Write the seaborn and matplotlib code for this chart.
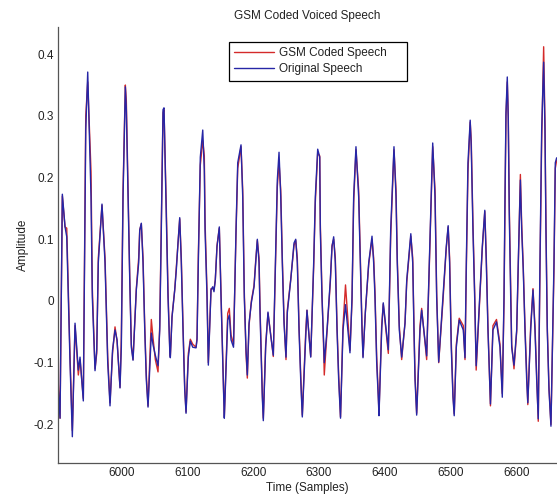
import matplotlib
matplotlib.use("Agg")
import matplotlib.pyplot as plt
import pandas as pd
import seaborn as sns

# ---- data (sample index, amplitude) ----
samples = [
    5903.1, 5906.2, 5909.7, 5913.8, 5916.4, 5921.4, 5924.9, 5929.0, 5934.0, 5936.6,
    5941.6, 5945.3, 5948.3, 5953.3, 5955.3, 5959.4, 5962.0, 5964.4, 5970.0, 5974.6,
    5978.7, 5982.2, 5986.0, 5989.8, 5992.9, 5997.4, 5999.4, 6002.0, 6005.5, 6007.0,
    6009.6, 6012.2, 6014.6, 6017.2, 6022.2, 6025.8, 6027.4, 6029.8, 6032.4, 6035.0,
    6037.4, 6040.0, 6045.0, 6047.6, 6051.1, 6055.2, 6057.8, 6060.2, 6062.8, 6064.3,
    6067.8, 6070.4, 6073.0, 6073.9, 6076.5, 6080.6, 6083.0, 6085.6, 6088.2, 6090.6,
    6093.2, 6095.8, 6097.8, 6101.3, 6104.3, 6108.0, 6113.0, 6114.5, 6116.5, 6119.5,
    6123.2, 6125.6, 6126.7, 6129.7, 6131.7, 6135.8, 6138.4, 6140.3, 6142.3, 6144.9,
    6148.4, 6151.0, 6153.6, 6155.1, 6156.0, 6161.2, 6163.6, 6166.2, 6170.0, 6173.8,
    6176.4, 6181.4, 6184.0, 6186.4, 6189.0, 6191.0, 6193.6, 6197.1, 6201.2, 6203.7,
    6206.2, 6208.8, 6210.3, 6212.3, 6213.8, 6215.3, 6218.9, 6222.4, 6225.5, 6230.5,
    6234.2, 6236.6, 6239.2, 6241.8, 6244.2, 6246.8, 6249.8, 6251.8, 6257.0, 6262.0,
    6264.6, 6267.0, 6269.6, 6272.2, 6274.6, 6279.8, 6281.7, 6287.4, 6291.9, 6294.4,
    6298.0, 6301.1, 6302.0, 6304.5, 6307.1, 6308.0, 6312.2, 6317.2, 6319.8, 6322.3,
    6324.8, 6327.4, 6329.9, 6332.7, 6336.5, 6340.3, 6347.1, 6350.2, 6352.7, 6356.2,
    6360.3, 6362.8, 6365.4, 6366.9, 6370.4, 6375.6, 6380.6, 6383.1, 6385.1, 6387.7,
    6390.1, 6391.2, 6395.3, 6397.7, 6405.4, 6409.0, 6414.0, 6417.1, 6419.0, 6422.1,
    6425.7, 6430.8, 6433.4, 6439.6, 6442.5, 6444.4, 6446.0, 6448.5, 6453.6, 6456.1,
    6463.7, 6467.7, 6472.9, 6476.4, 6478.9, 6482.0, 6488.5, 6493.5, 6496.4, 6498.6,
    6501.1, 6503.7, 6505.6, 6508.8, 6513.2, 6519.4, 6522.0, 6524.0, 6526.5, 6529.9,
    6531.5, 6534.1, 6536.7, 6539.0, 6544.3, 6548.3, 6552.1, 6554.4, 6556.9, 6560.7,
    6564.5, 6569.9, 6575.2, 6578.7, 6581.3, 6582.8, 6584.3, 6586.3, 6587.8, 6589.3,
    6591.5, 6593.0, 6596.5, 6600.6, 6603.0, 6606.2, 6608.2, 6610.6, 6613.2, 6615.8,
    6617.5, 6621.9, 6625.4, 6628.4, 6631.0, 6633.4, 6636.0, 6638.6, 6641.6, 6643.6,
    6645.1, 6647.1, 6649.7, 6652.7, 6657.3, 6659.3, 6661.4,
]

original_speech = [
    -0.136, -0.19, 0.173, 0.12, 0.104, -0.10, -0.22, -0.036, -0.112, -0.091,
    -0.162, 0.277, 0.371, 0.169, 0.006, -0.113, -0.079, 0.062, 0.157, 0.062,
    -0.10, -0.17, -0.08, -0.047, -0.063, -0.141, -0.075, 0.169, 0.347, 0.31,
    0.169, 0.034, -0.075, -0.096, 0.018, 0.062, 0.115, 0.126, 0.062, -0.047,
    -0.128, -0.172, -0.052, -0.071, -0.088, -0.105, -0.047, 0.115, 0.31, 0.313,
    0.136, 0.006, -0.079, -0.092, -0.026, 0.018, 0.05, 0.094, 0.135, 0.062,
    -0.047, -0.144, -0.182, -0.091, -0.065, -0.075, -0.076, -0.063, 0.062, 0.233,
    0.277, 0.212, 0.115, 0.006, -0.104, 0.018, 0.023, 0.015, 0.034, 0.088,
    0.12, 0.006, -0.10, -0.156, -0.19, -0.031, -0.023, -0.063, -0.075, 0.115,
    0.224, 0.253, 0.169, 0.006, -0.079, -0.12, -0.036, -0.003, 0.023, 0.062,
    0.10, 0.062, -0.019, -0.10, -0.156, -0.194, -0.075, -0.018, -0.047, -0.088,
    0.088, 0.196, 0.241, 0.169, 0.062, -0.036, -0.091, -0.019, 0.034, 0.094,
    0.10, 0.062, -0.047, -0.128, -0.188, -0.058, -0.015, -0.091, 0.062, 0.169,
    0.246, 0.233, 0.115, 0.006, -0.068, -0.10, -0.047, 0.034, 0.088, 0.104,
    0.062, -0.047, -0.128, -0.19, -0.047, -0.006, -0.084, 0.006, 0.169, 0.25,
    0.169, 0.062, -0.047, -0.092, -0.019, 0.062, 0.105, 0.062, 0.006, -0.10,
    -0.156, -0.186, -0.047, -0.003, -0.079, 0.115, 0.25, 0.169, 0.062, -0.047,
    -0.091, -0.036, 0.034, 0.109, 0.062, -0.047, -0.128, -0.185, -0.047, -0.015,
    -0.089, 0.062, 0.256, 0.169, 0.006, -0.099, 0.006, 0.088, 0.122, 0.062,
    -0.075, -0.156, -0.186, -0.075, -0.031, -0.047, -0.092, 0.062, 0.224, 0.293,
    0.25, 0.115, 0.006, -0.105, 0.006, 0.088, 0.147, 0.062, -0.047, -0.167,
    -0.047, -0.034, -0.075, -0.156, 0.006, 0.169, 0.305, 0.363, 0.293, 0.143,
    0.006, -0.075, -0.104, -0.047, 0.062, 0.196, 0.115, 0.05, -0.047, -0.128,
    -0.165, -0.047, 0.018, -0.047, -0.128, -0.191, 0.062, 0.277, 0.387, 0.277,
    0.115, -0.047, -0.144, -0.203, 0.062, 0.224, 0.232,
]

gsm_coded_speech = [
    -0.125, -0.19, 0.17, 0.12, 0.118, -0.09, -0.21, -0.04, -0.12, -0.095,
    -0.158, 0.30, 0.355, 0.21, 0.02, -0.11, -0.085, 0.07, 0.155, 0.07,
    -0.09, -0.165, -0.085, -0.042, -0.065, -0.14, -0.06, 0.18, 0.35, 0.325,
    0.18, 0.04, -0.07, -0.095, 0.02, 0.07, 0.115, 0.125, 0.07, -0.04,
    -0.12, -0.17, -0.03, -0.06, -0.095, -0.115, -0.04, 0.125, 0.305, 0.31,
    0.15, 0.015, -0.075, -0.09, -0.025, 0.018, 0.055, 0.095, 0.133, 0.07,
    -0.04, -0.14, -0.18, -0.085, -0.062, -0.07, -0.075, -0.06, 0.075, 0.22,
    0.26, 0.235, 0.13, 0.015, -0.1, 0.02, 0.02, 0.018, 0.034, 0.09,
    0.118, 0.015, -0.09, -0.15, -0.188, -0.02, -0.012, -0.055, -0.07, 0.11,
    0.215, 0.25, 0.18, 0.015, -0.085, -0.125, -0.04, 0.0, 0.025, 0.065,
    0.098, 0.07, -0.01, -0.09, -0.15, -0.19, -0.07, -0.02, -0.045, -0.09,
    0.08, 0.185, 0.225, 0.18, 0.07, -0.03, -0.095, -0.015, 0.035, 0.09,
    0.098, 0.07, -0.04, -0.12, -0.185, -0.05, -0.015, -0.09, 0.055, 0.16,
    0.24, 0.235, 0.125, 0.015, -0.08, -0.12, -0.05, 0.03, 0.09, 0.1,
    0.07, -0.04, -0.12, -0.188, -0.04, 0.026, -0.08, 0.0, 0.16, 0.245,
    0.18, 0.07, -0.04, -0.09, -0.02, 0.06, 0.1, 0.07, 0.015, -0.09,
    -0.15, -0.182, -0.04, -0.005, -0.085, 0.105, 0.245, 0.18, 0.07, -0.04,
    -0.095, -0.035, 0.03, 0.105, 0.07, -0.04, -0.12, -0.182, -0.04, -0.012,
    -0.095, 0.055, 0.25, 0.18, 0.015, -0.1, 0.0, 0.085, 0.12, 0.07,
    -0.065, -0.15, -0.183, -0.07, -0.028, -0.04, -0.095, 0.05, 0.21, 0.29,
    0.26, 0.125, 0.015, -0.112, 0.0, 0.085, 0.145, 0.07, -0.04, -0.17,
    -0.04, -0.03, -0.07, -0.15, -0.005, 0.155, 0.3, 0.355, 0.3, 0.155,
    0.015, -0.07, -0.11, -0.05, 0.055, 0.205, 0.125, 0.055, -0.04, -0.12,
    -0.168, -0.04, 0.02, -0.04, -0.12, -0.195, 0.05, 0.26, 0.412, 0.29,
    0.125, -0.04, -0.14, -0.2, 0.05, 0.215, 0.228,
]

x_ticks = [6000, 6100, 6200, 6300, 6400, 6500, 6600]
y_ticks = [-0.2, -0.1, 0, 0.1, 0.2, 0.3, 0.4]
y_tick_labels = ["-0.2", "-0.1", "0", "0.1", "0.2", "0.3", "0.4"]

title = "GSM Coded Voiced Speech"
x_label = "Time (Samples)"
y_label = "Amplitude"

# ---- style ----
sns.set_style("white")
plt.rcParams["font.family"] = ["Liberation Sans", "DejaVu Sans"]

RED = "#d42a2a"
BLUE = "#2626a6"
TEXT = "#222222"

df = pd.DataFrame({
    "Sample": samples,
    "GSM Coded Speech": gsm_coded_speech,
    "Original Speech": original_speech,
})

fig = plt.figure(figsize=(5.57, 4.97), dpi=100)
ax = fig.add_axes([58 / 557, 1 - 463 / 497, 499 / 557, 436 / 497])

sns.lineplot(data=df, x="Sample", y="GSM Coded Speech", ax=ax, color=RED,
             linewidth=1.0, label="GSM Coded Speech", sort=False, estimator=None)
sns.lineplot(data=df, x="Sample", y="Original Speech", ax=ax, color=BLUE,
             linewidth=1.0, label="Original Speech", sort=False, estimator=None)

ax.set_xlim(5903.1, 6661.9)
ax.set_ylim(-0.2626, 0.444)
ax.set_xticks(x_ticks)
ax.set_xticklabels([str(t) for t in x_ticks])
ax.set_yticks(y_ticks)
ax.set_yticklabels(y_tick_labels)
ax.tick_params(direction="in", length=4, width=0.8, labelsize=8.5,
               colors="#555555", labelcolor=TEXT, pad=3)

for side in ["top", "right"]:
    ax.spines[side].set_visible(False)
for side in ["left", "bottom"]:
    ax.spines[side].set_color("#555555")
    ax.spines[side].set_linewidth(0.9)

ax.set_title(title, fontsize=8.5, color=TEXT, pad=6)
ax.set_xlabel(x_label, fontsize=8.5, color=TEXT, labelpad=2)
ax.set_ylabel(y_label, fontsize=8.5, color=TEXT, labelpad=3)

# legend box: x 229..407 px, y 42..81 px in the figure
lx0 = (229 - 58) / 499
lw = (407 - 229) / 499
ly1 = (463 - 42) / 436
lh = (81 - 42) / 436
leg = ax.legend(loc="upper left", bbox_to_anchor=(lx0, ly1 - lh, lw, lh),
                mode="expand", borderaxespad=0, fontsize=8.5, fancybox=False,
                framealpha=1, edgecolor="black", handlelength=3.4,
                handletextpad=0.4, labelspacing=0.35, borderpad=0.45)
leg.get_frame().set_linewidth(0.9)
for t in leg.get_texts():
    t.set_color(TEXT)

fig.savefig("out.png", dpi=100)
